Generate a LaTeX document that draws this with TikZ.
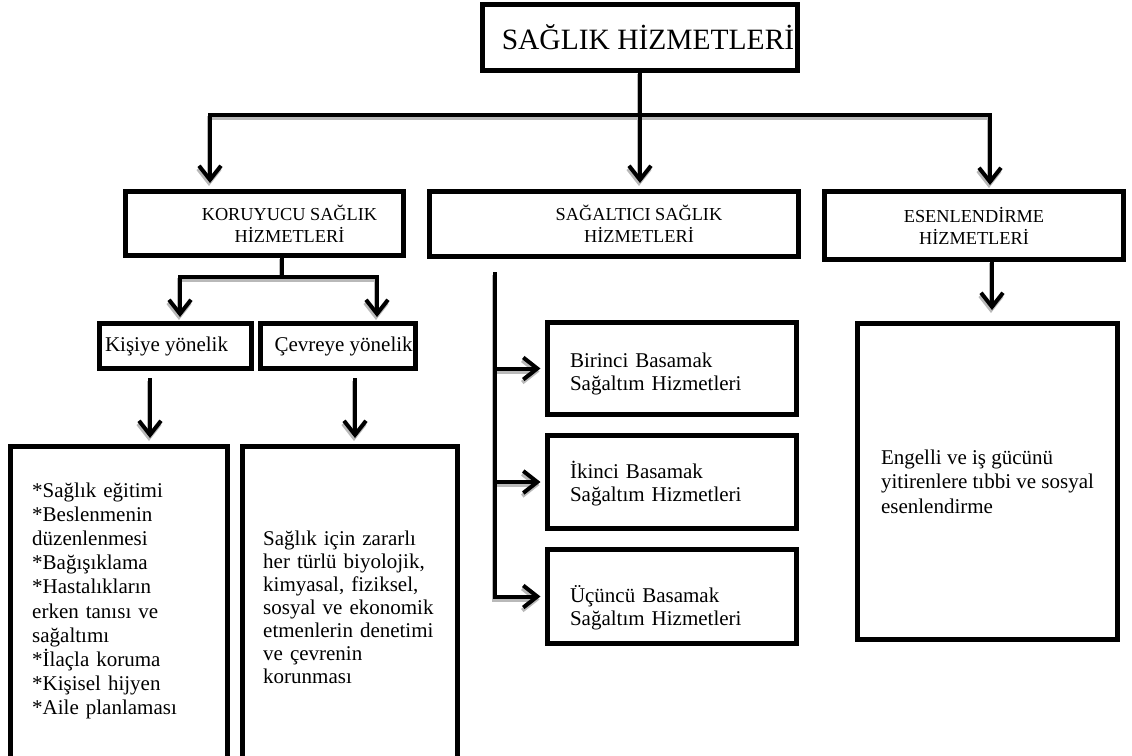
\documentclass[tikz,border=0pt]{standalone}
\usepackage{fontspec}
\setmainfont{Liberation Serif}
\usetikzlibrary{arrows.meta}

\newcommand\fs[2]{\fontsize{#1}{#2}\selectfont}

\tikzset{
  box/.style={draw=black, line width=5pt, fill=white, inner sep=0pt, outer sep=0pt},
  conn/.style={draw=black, line width=4pt, line join=miter,
    -{Straight Barb[length=14pt,width=22pt]}},
  shade/.style={conn, draw=gray!55, transform canvas={shift={(-1pt,-3pt)}}},
  head/.style={font=\fs{18.3}{22}, align=center},
  body/.style={font=\fs{21}{23}},
  stepbox/.style={box, body, text width=204pt, inner xsep=22.5pt, align=left, text depth=28pt},
}

% every connector of the chart, drawn in the given style
\newcommand\connectors[1]{%
  % from the title to the three service groups
  \draw[#1, shorten >=8.5pt] (barR) -- (barL) -- (barL |- kor.north);
  \draw[#1, shorten >=6.5pt] (barL) -- (barR) -- (barR |- ese.north);
  \draw[#1, shorten >=8.5pt] (top.south) -- (top.south |- sag.north);
  % preventive services split in two
  \draw[#1, -] (kmid |- kor.south) -- (kmid |- kL);
  \draw[#1, shorten >=6.5pt] (kR) -- (kL) -- (kL |- kis.north);
  \draw[#1, shorten >=6.5pt] (kL) -- (kR) -- (kR |- cev.north);
  \draw[#1, shorten <=9.5pt, shorten >=8.5pt] (kisX |- kis.south) -- (kisX |- kisbox.north);
  \draw[#1, shorten <=9.5pt, shorten >=8.5pt] (cevX |- cev.south) -- (cevX |- cevbox.north);
  % curative services: trunk with three steps
  \draw[#1, shorten <=15.5pt, shorten >=7pt] (sX |- sag.south) -- (sX |- uc.west) -- (uc.west);
  \draw[#1, shorten >=7pt] (sX |- bir.west) -- (bir.west);
  \draw[#1, shorten >=7pt] (sX |- iki.west) -- (iki.west);
  % rehabilitation
  \draw[#1, shorten >=13.5pt] (eX |- ese.south) -- (eX |- eng.north);
}

\begin{document}
\begin{tikzpicture}[x=1pt,y=-1pt]
\useasboundingbox (0,0) rectangle (1132,755);
\clip (0,0) rectangle (1132,755);

% title
\node[box, line width=5.5pt, minimum width=315pt, minimum height=66pt, font=\fs{29.5}{34}] (top) at (640,37.5)
  {\hspace*{16pt}SAĞLIK HİZMETLERİ};

% service groups
\node[box, head, minimum width=278pt, minimum height=64pt] (kor) at (264.5,223.5)
  {\hspace*{50pt}KORUYUCU SAĞLIK\\\hspace*{50pt}HİZMETLERİ};
\node[box, head, minimum width=369pt, minimum height=65pt] (sag) at (614,224)
  {\hspace*{50pt}SAĞALTICI SAĞLIK\\\hspace*{50pt}HİZMETLERİ};
\node[box, head, minimum width=299pt, minimum height=68pt] (ese) at (974,225.5) {ESENLENDİRME\\HİZMETLERİ};

% preventive services
\node[box, body, minimum width=152pt, minimum height=45pt] (kis) at (175.5,346) {\makebox[152pt][l]{\hspace{5.5pt}Kişiye yönelik}};
\node[box, body, minimum width=155pt, minimum height=45pt] (cev) at (338,346) {\makebox[155pt][l]{\hspace{14pt}Çevreye yönelik}};

\node[box, minimum width=217pt, minimum height=355pt] (kisbox) at (119,624) {};
\node[box, minimum width=215pt, minimum height=355pt] (cevbox) at (350,624) {};

\node[anchor=base west, inner sep=0pt, text width=190pt, align=left, font=\fs{21}{24.2}] (kistext) at (32,497)
  {{*}Sağlık eğitimi\\{*}Beslenmenin\\düzenlenmesi\\{*}Bağışıklama\\{*}Hastalıkların\\erken tanısı ve\\sağaltımı\\{*}İlaçla koruma\\{*}Kişisel hijyen\\{*}Aile planlaması};
\node[anchor=base west, inner sep=0pt, text width=190pt, align=left, font=\fs{21}{23}] (cevtext) at (263,545)
  {Sağlık için zararlı\\her türlü biyolojik,\\kimyasal, fiziksel,\\sosyal ve ekonomik\\etmenlerin denetimi\\ve çevrenin\\korunması};

% curative steps
\node[stepbox, minimum height=92pt, text height=25pt] (bir) at (672,368.5) {Birinci Basamak\\Sağaltım Hizmetleri};
\node[stepbox, minimum height=93pt, text height=20pt] (iki) at (672,482) {İkinci Basamak\\Sağaltım Hizmetleri};
\node[stepbox, minimum height=94pt, text height=39pt] (uc) at (672,596.5) {Üçüncü Basamak\\Sağaltım Hizmetleri};

% rehabilitation
\node[box, font=\fs{21}{24.5}, align=left, minimum width=260pt, minimum height=316pt] (eng) at (987.5,481.5)
  {Engelli ve iş gücünü\\yitirenlere tıbbi ve sosyal\\esenlendirme};

% junction points of the connectors
\coordinate (barL) at (210,114.5);
\coordinate (barR) at (990,114.5);
\coordinate (kmid) at (282,0);
\coordinate (kL) at (180,277);
\coordinate (kR) at (377,277);
\coordinate (kisX) at (150,0);
\coordinate (cevX) at (355,0);
\coordinate (sX) at (495,0);
\coordinate (eX) at (992,0);

\connectors{shade}
\connectors{conn}
\end{tikzpicture}
\end{document}
